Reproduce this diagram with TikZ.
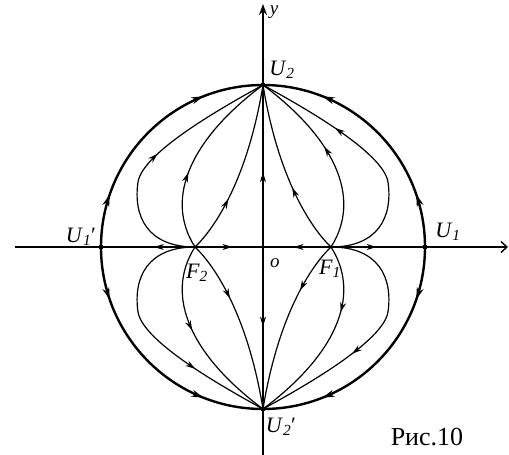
\documentclass[tikz,border=0pt]{standalone}
\usepackage{fontspec}
\setmainfont{Liberation Serif}
\usetikzlibrary{arrows.meta,decorations.markings,positioning}
\newcommand{\ptLab}[3]{\textit{#1}\textsubscript{\textit{#2}}#3}
\tikzset{
  flowArr/.style={postaction={decorate},decoration={markings,
      mark=at position #1 with {\arrow{Stealth[length=10pt,width=6pt]}}}},
  circArr/.style 2 args={postaction={decorate},decoration={markings,
      mark=at position #1 with {\arrow{Stealth[length=12pt,width=7pt]}},
      mark=at position #2 with {\arrow{Stealth[length=12pt,width=7pt]}}}},
  trajLine/.style={line width=1.2pt},
  sepLine/.style={line width=2.4pt},
  axisLine/.style={line width=1.4pt},
  ptDot/.style={circle,fill,inner sep=0pt,minimum size=5pt},
  lbl/.style={font=\fontsize{22}{26}\selectfont,inner sep=1pt},
}

\begin{document}
\begin{tikzpicture}[x=1pt,y=1pt]
  \useasboundingbox (-263,-208) rectangle (246,247);
  % points of the portrait
  \coordinate (O) at (0,0);
  \coordinate (F1) at (68,0);
  \coordinate (F2) at (-68,0);
  \coordinate (xL) at (-248,0);
  \coordinate (xR) at (245,0);
  \coordinate (yB) at (0,-208);
  \coordinate (yT) at (0,243);
  \node[ptDot] (U1) at (162,0) {};
  \node[ptDot] (U1p) at (-162,0) {};
  \node[ptDot] (U2) at (0,162) {};
  \node[ptDot] (U2p) at (0,-162) {};
  % axes
  \draw[axisLine,-{Straight Barb[length=6pt,width=11pt]}] (xL) -- (xR);
  \draw[axisLine,-{Stealth[length=11pt,width=8pt]}] (yB) -- (yT);
  \draw[trajLine,flowArr=0.55] (F1) -- (O);
  \draw[trajLine,flowArr=0.5] (F1) -- (U1);
  \draw[trajLine,flowArr=0.55] (F2) -- (O);
  \draw[trajLine,flowArr=0.45] (F2) -- (U1p);
  \draw[trajLine,flowArr=0.47] (O) -- (U2);
  \draw[trajLine,flowArr=0.5] (O) -- (U2p);
  % trajectories, one quarter mirrored
  \foreach \sx/\sy/\pa/\pb/\pc in {1/1/0.4/0.55/0.68,-1/1/0.33/0.4/0.52,
                                   -1/-1/0.35/0.45/0.7,1/-1/0.3/0.35/0.6}{
    \begin{scope}[xscale=\sx,yscale=\sy]
      \draw[sepLine,circArr={0.21}{0.76}] (162,0) arc[start angle=0,end angle=90,radius=162];
      \draw[trajLine,flowArr=\pa] (68,0) .. controls (47,20) and (15,70) .. (0,162);
      \draw[trajLine,flowArr=\pb] (68,0) .. controls (100,50) and (70,110) .. (0,162);
      \draw[trajLine,flowArr=\pc] (68,0) .. controls (115,0) and (130,30) .. (125,65)
                                   .. controls (120,95) and (40,140) .. (0,162);
    \end{scope}
  }
  % labels
  \node[lbl,font=\fontsize{19}{22}\selectfont\itshape] (yLab) at (11,235) {y};
  \node[lbl] (U2Lab) at (19,177) {\ptLab{U}{2}{}};
  \node[lbl] (U1Lab) at (185,15) {\ptLab{U}{1}{}};
  \node[lbl] (U1pLab) at (-182,10) {\ptLab{U}{1}{′}};
  \node[lbl] (F1Lab) at (67,-22) {\ptLab{F}{1}{}};
  \node[lbl] (F2Lab) at (-66,-26) {\ptLab{F}{2}{}};
  \node[lbl,font=\fontsize{19}{22}\selectfont\itshape] (OLab) at (12,-16) {o};
  \node[lbl] (U2pLab) at (18,-180) {\ptLab{U}{2}{′}};
  \node[font=\fontsize{26}{30}\selectfont] (figCap) at (164,-190) {Рис.10};
\end{tikzpicture}
\end{document}
